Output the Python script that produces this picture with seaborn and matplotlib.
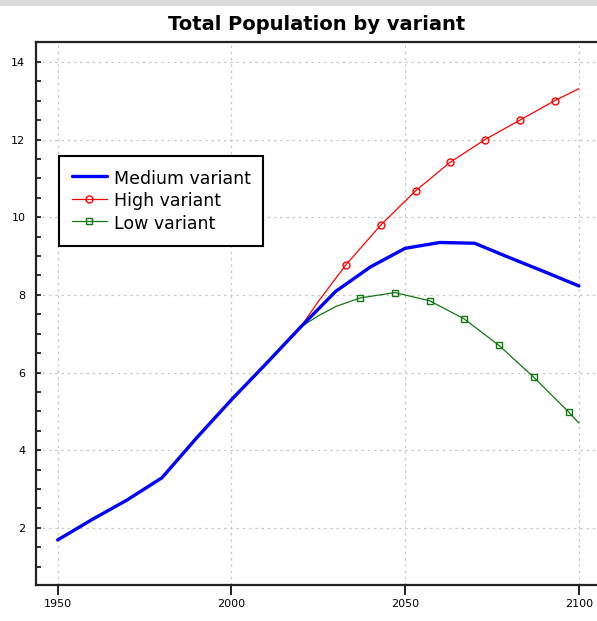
import pandas as pd
import matplotlib.pyplot as plt
import seaborn as sns
from matplotlib.ticker import MultipleLocator
from matplotlib.patches import Rectangle

# values
medium_years = [1950, 1960, 1970, 1980, 1990, 2000, 2010, 2020, 2030, 2040,
                2050, 2060, 2070, 2080, 2090, 2100]
medium_pop = [1.69, 2.22, 2.72, 3.29, 4.32, 5.30, 6.23, 7.18, 8.09, 8.72,
              9.20, 9.35, 9.33, 8.96, 8.60, 8.23]

high_years = [2020, 2025, 2033, 2043, 2053, 2063, 2073, 2083, 2093, 2100]
high_pop = [7.18, 7.83, 8.78, 9.80, 10.68, 11.42, 12.00, 12.50, 13.00, 13.31]

low_years = [2020, 2025, 2030, 2037, 2047, 2057, 2067, 2077, 2087, 2097, 2100]
low_pop = [7.18, 7.46, 7.70, 7.92, 8.06, 7.85, 7.38, 6.70, 5.88, 4.99, 4.70]

x_ticks = [1950, 2000, 2050, 2100]
y_ticks = [2, 4, 6, 8, 10, 12, 14]

medium = pd.DataFrame({'year': medium_years, 'pop': medium_pop})
high = pd.DataFrame({'year': high_years, 'pop': high_pop})
low = pd.DataFrame({'year': low_years, 'pop': low_pop})

sns.set_theme(style="white")
plt.rcParams['font.family'] = ['DejaVu Sans']
plt.rcParams['text.color'] = 'black'

fig = plt.figure(figsize=(5.97, 6.21), dpi=100)
ax = fig.add_axes([0.0611, 0.058, 0.9389, 0.8736])

# light grey strip at the top of the picture
fig.patches.append(Rectangle((0, 0.990), 1, 0.010, transform=fig.transFigure,
                             facecolor='#d9d9d9', edgecolor='none'))

sns.lineplot(data=medium, x='year', y='pop', ax=ax, color='#0000ff',
             linewidth=2.4, label='Medium variant', zorder=3)
sns.lineplot(data=high, x='year', y='pop', ax=ax, color='#ff0000',
             linewidth=0.9, marker='o', markersize=5, markerfacecolor='none',
             markeredgecolor='#ff0000', markeredgewidth=1.0,
             markevery=list(range(2, 9)), label='High variant', zorder=2)
sns.lineplot(data=low, x='year', y='pop', ax=ax, color='#117711',
             linewidth=0.9, marker='s', markersize=5, markerfacecolor='none',
             markeredgecolor='#117711', markeredgewidth=1.0,
             markevery=list(range(3, 10)), label='Low variant', zorder=2)

ax.set_xlim(1943.9, 2105.2)
ax.set_ylim(0.53, 14.5)
ax.set_xticks(x_ticks)
ax.set_yticks(y_ticks)
ax.yaxis.set_minor_locator(MultipleLocator(0.5))
ax.set_xlabel('')
ax.set_ylabel('')

ax.grid(True, color='#c8c8c8', linestyle=(0, (2, 3)), linewidth=0.9)
ax.set_axisbelow(True)

for side in ['left', 'bottom', 'top']:
    ax.spines[side].set_color('#222222')
    ax.spines[side].set_linewidth(1.6)
ax.spines['right'].set_visible(False)

ax.tick_params(axis='x', direction='out', length=7, width=1.3, color='#111111',
               labelsize=8, pad=3, labelcolor='black', bottom=True)
ax.tick_params(axis='y', which='both', direction='in', length=3.5, width=1.2,
               color='#111111', labelsize=8, pad=8, labelcolor='black',
               left=True)

ax.set_title('Total Population by variant', fontsize=14, fontweight='bold',
             color='black', pad=9)

leg = ax.legend(loc='upper left', bbox_to_anchor=(0.040, 0.791),
                borderaxespad=0, fontsize=12.5, frameon=True, fancybox=False,
                framealpha=1, handlelength=2.0, handleheight=1.25,
                handletextpad=0.4, labelspacing=0.2, borderpad=0.75)
leg.get_frame().set_edgecolor('black')
leg.get_frame().set_linewidth(1.5)
for t in leg.get_texts():
    t.set_color('black')

plt.savefig('out.png', dpi=100)
